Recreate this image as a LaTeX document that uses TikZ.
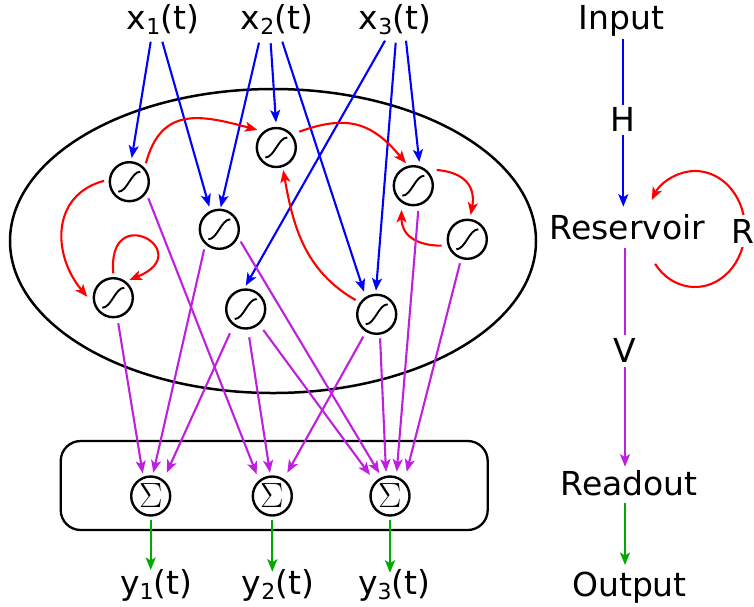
\documentclass[tikz,border=0pt]{standalone}
\usepackage[no-math]{fontspec}
\setmainfont{DejaVu Sans}
\usetikzlibrary{arrows.meta}
\definecolor{cblue}{RGB}{0,0,255}
\definecolor{cred}{RGB}{255,0,0}
\definecolor{cpurple}{RGB}{191,31,223}
\definecolor{cgreen}{RGB}{0,170,0}
\newcommand{\sublbl}[2]{#1\raisebox{-5pt}{\fontsize{22}{22}\selectfont #2}(t)}
\newcommand{\sumglyph}{{\fontfamily{lmr}\fontsize{35}{36}\selectfont Σ}}
\begin{document}
\begin{tikzpicture}[x=1pt,y=1pt,
  every node/.style={font=\fontsize{33}{40}\selectfont},
  lbl/.style={inner sep=1pt,text=black},
  neuron/.style={circle,draw,line width=2.4pt,minimum size=39pt,inner sep=0pt,
    path picture={\draw[line width=1.9pt,shift={(path picture bounding box.center)}] (-11,-10) .. controls (-2,-10) and (2,10) .. (11,10);}},
  summ/.style={circle,draw,line width=2.4pt,minimum size=39pt,inner sep=0pt},
  arr/.style={line width=2.1pt,-{Stealth[length=12.5pt,width=10pt,inset=3pt]}},
  inarr/.style={arr,cblue},
  recarr/.style={arr,cred},
  outarr/.style={arr,cpurple},
  yarr/.style={arr,cgreen}]
\useasboundingbox (0,0) rectangle (754,-606);

% containers
\draw[line width=2.5pt] (273,-241) ellipse [x radius=263, y radius=152];
\draw[line width=2.3pt, rounded corners=20pt] (60.7,-441) rectangle (487.7,-530);

% neurons
\node[neuron] (A) at (129.3,-181.7) {};
\node[neuron] (B) at (219.3,-229.3) {};
\node[neuron] (C) at (113.3,-297.7) {};
\node[neuron] (D) at (245.7,-309) {};
\node[neuron] (E) at (276.3,-147.5) {};
\node[neuron] (F) at (413.3,-185.7) {};
\node[neuron] (G) at (467.3,-239.3) {};
\node[neuron] (H) at (376.7,-314.3) {};

% readout units
\node[summ] (S1) at (150.7,-496) {\sumglyph};
\node[summ] (S2) at (272.3,-496) {\sumglyph};
\node[summ] (S3) at (390,-496) {\sumglyph};

% labels
\node[lbl,anchor=base] (x1) at (163,-29) {\sublbl{x}{1}};
\node[lbl,anchor=base] (x2) at (277,-29) {\sublbl{x}{2}};
\node[lbl,anchor=base] (x3) at (395,-29) {\sublbl{x}{3}};
\node[lbl,anchor=base] (y1) at (156.2,-594) {\sublbl{y}{1}};
\node[lbl,anchor=base] (y2) at (278,-594) {\sublbl{y}{2}};
\node[lbl,anchor=base] (y3) at (394.3,-594) {\sublbl{y}{3}};

% input connections
\draw[inarr] ([shift={(-12.3,-12.7)}]x1.base) -- ([shift={(2.4,23.7)}]A.center);
\draw[inarr] ([shift={(-0.7,-12.7)}]x1.base) -- ([shift={(-10,22.6)}]B.center);
\draw[inarr] ([shift={(-18,-13.7)}]x2.base) -- ([shift={(1.4,22)}]B.center);
\draw[inarr] ([shift={(-6.3,-14.3)}]x2.base) -- ([shift={(-0.3,25)}]E.center);
\draw[inarr] ([shift={(5.3,-12.7)}]x2.base) -- ([shift={(-12.7,22.6)}]H.center);
\draw[inarr] ([shift={(-10,-11.7)}]x3.base) -- ([shift={(0,23.3)}]D.center);
\draw[inarr] ([shift={(0.7,-13.7)}]x3.base) -- ([shift={(-0.7,23.6)}]H.center);
\draw[inarr] ([shift={(11,-11.7)}]x3.base) -- ([shift={(6,23.7)}]F.center);

% recurrent connections
\draw[recarr] ([shift={(48:24.8)}]A.center) to[out=75,in=165,looseness=1.3] ([shift={(137:25.8)}]E.center);
\draw[recarr] ([shift={(178:25.3)}]A.center) to[out=195,in=130,looseness=1.2] ([shift={(178:26)}]C.center);
\draw[recarr] ([shift={(90:24.4)}]C.center) to[out=95,in=22,looseness=11] ([shift={(48:23.9)}]C.center);
\draw[recarr] ([shift={(34.5:27.9)}]E.center) to[out=20,in=130,looseness=1.2] ([shift={(108:23.6)}]F.center);
\draw[recarr] ([shift={(34:28.2)}]F.center) to[out=-5,in=80,looseness=1.3] ([shift={(82:24.5)}]G.center);
\draw[recarr] ([shift={(194:26.4)}]G.center) to[out=180,in=-90,looseness=1.2] ([shift={(244:26.9)}]F.center);
\draw[recarr] ([shift={(146:25.4)}]H.center) to[out=150,in=-80] ([shift={(-73:23.6)}]E.center);

% output connections
\draw[outarr] ([shift={(-41:25.2)}]A.center) -- ([shift={(-15.6,21.7)}]S2.center);
\draw[outarr] ([shift={(-127:25.2)}]B.center) -- ([shift={(2.6,23.3)}]S1.center);
\draw[outarr] ([shift={(-30:24.7)}]B.center) -- ([shift={(-10.7,22.7)}]S3.center);
\draw[outarr] ([shift={(-79:26)}]C.center) -- ([shift={(-8,22.7)}]S1.center);
\draw[outarr] ([shift={(-123:29)}]D.center) -- ([shift={(16,23.3)}]S1.center);
\draw[outarr] ([shift={(-83:28.5)}]D.center) -- ([shift={(-2.3,23.3)}]S2.center);
\draw[outarr] ([shift={(-50:27.4)}]D.center) -- ([shift={(-20,21)}]S3.center);
\draw[outarr] ([shift={(-121:26)}]H.center) -- ([shift={(15,23.3)}]S2.center);
\draw[outarr] ([shift={(-82:24.2)}]H.center) -- ([shift={(-4,24.3)}]S3.center);
\draw[outarr] ([shift={(-79:25.8)}]F.center) -- ([shift={(6.7,24.3)}]S3.center);
\draw[outarr] ([shift={(-107:25)}]G.center) -- ([shift={(16.7,24.3)}]S3.center);

% readout to outputs
\draw[yarr] ([yshift=-3pt]S1.south) -- ([shift={(-5.5,24)}]y1.base);
\draw[yarr] ([yshift=-3pt]S2.south) -- ([shift={(-5.7,22.3)}]y2.base);
\draw[yarr] ([yshift=-3pt]S3.south) -- ([shift={(-4.3,21.3)}]y3.base);

% schematic column
\node[lbl,anchor=base] (inp) at (621.5,-29.3) {Input};
\node[lbl,anchor=base] (resv) at (627.5,-239.3) {Reservoir};
\node[lbl,anchor=base] (rdo) at (629,-495) {Readout};
\node[lbl,anchor=base] (outp) at (629.5,-596) {Output};

\draw[inarr] ([shift={(1.8,-10)}]inp.base) -- node[lbl,fill=white,inner sep=3pt,pos=0.48] (hl) {H} ([shift={(-4.2,32.6)}]resv.base);
\draw[outarr] ([shift={(-2.5,-9)}]resv.base) -- node[lbl,fill=white,inner sep=4pt,pos=0.47] (vl) {V} ([shift={(-4,28.3)}]rdo.base);
\draw[yarr] ([shift={(-4,-8.3)}]rdo.base) -- ([shift={(-4.5,31)}]outp.base);
\draw[recarr] ([shift={(67.5,10.3)}]resv.base) ++(-143:50 and 58) arc[start angle=-143,end angle=150,x radius=50,y radius=58];
\node[lbl,anchor=base,fill=white,inner sep=4pt] (rl) at (742.5,-243.3) {R};
\end{tikzpicture}
\end{document}
